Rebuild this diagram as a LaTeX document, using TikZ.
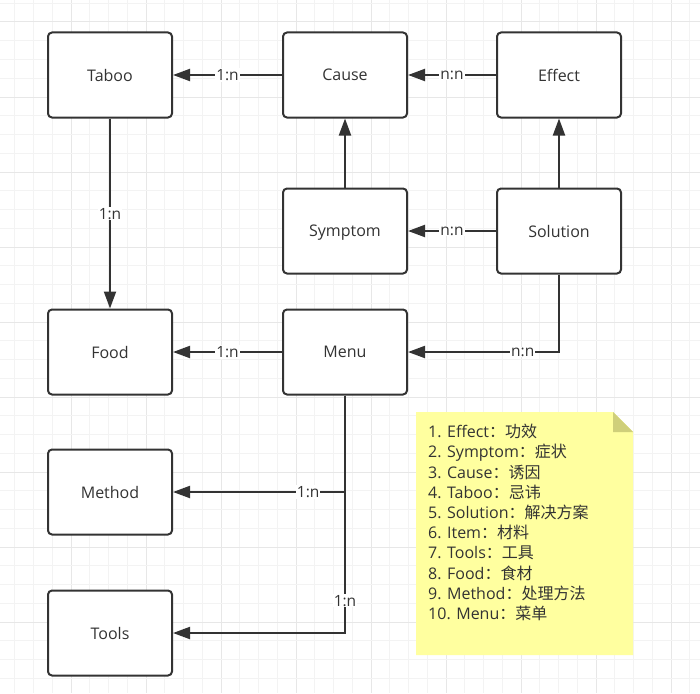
\documentclass[tikz,border=0pt]{standalone}
\usepackage{fontspec}
\setmainfont{Open Sans}
\newfontfamily\cjk{Noto Sans CJK SC}
\usetikzlibrary{arrows.meta}
\definecolor{ink}{HTML}{333333}
\definecolor{gridminor}{HTML}{F3F3F3}
\definecolor{gridmajor}{HTML}{E7E7E7}
\definecolor{notefill}{HTML}{FFFF9F}
\definecolor{notefold}{HTML}{CFCF7A}
\tikzset{
  entity/.style={draw=ink, line width=2pt, rounded corners=4pt, fill=white,
    minimum width=124pt, minimum height=85pt, inner sep=0pt, text depth=0pt,
    font=\fontsize{16}{18}\selectfont, text=ink},
  rel/.style={draw=ink, line width=2pt, -{Triangle[length=17pt,width=12pt]}},
  lbl/.style={fill=white, inner sep=1pt, text depth=0pt, font=\fontsize{15.5}{18}\selectfont, text=ink},
}
\begin{document}
\begin{tikzpicture}[x=1pt,y=-1pt]
\useasboundingbox (0,0) rectangle (700,693);
\fill[white] (0,0) rectangle (700,693);
% grid
\foreach \k in {0,...,38} {
  \pgfmathsetmacro\xx{-4+18.75*\k}
  \pgfmathtruncatemacro\m{mod(\k,4)}
  \ifnum\m=0
    \draw[gridmajor, line width=1pt] (\xx,0) -- (\xx,693);
  \else
    \draw[gridminor, line width=1pt] (\xx,0) -- (\xx,693);
  \fi
}
\foreach \k in {0,...,37} {
  \pgfmathsetmacro\yy{3.25+18.75*\k}
  \pgfmathtruncatemacro\m{mod(\k+3,4)}
  \ifnum\m=0
    \draw[gridmajor, line width=1pt] (0,\yy) -- (700,\yy);
  \else
    \draw[gridminor, line width=1pt] (0,\yy) -- (700,\yy);
  \fi
}
% nodes
\node[entity] (taboo) at (110,75) {Taboo};
\node[entity] (cause) at (345,75) {Cause};
\node[entity] (effect) at (559,75) {Effect};
\node[entity] (symptom) at (345,231) {Symptom};
\node[entity] (solution) at (559,231) {Solution};
\node[entity] (food) at (110,352) {Food};
\node[entity] (menu) at (345,352) {Menu};
\node[entity] (method) at (110,492) {Method};
\node[entity] (tools) at (110,633) {Tools};
% connectors
\draw[rel] (cause) -- node[lbl] {1:n} (taboo);
\draw[rel] (effect) -- node[lbl] {n:n} (cause);
\draw[rel] (symptom) -- (cause);
\draw[rel] (solution) -- (effect);
\draw[rel] (solution) -- node[lbl] {n:n} (symptom);
\draw[rel] (taboo) -- node[lbl] {1:n} (food);
\draw[rel] (menu) -- node[lbl] {1:n} (food);
\draw[rel] (solution.south) |- node[lbl, pos=0.62] {n:n} (menu.east);
\draw[rel] (menu.south) |- node[lbl, pos=0.607] {1:n} (method.east);
\draw[rel] (menu.south) |- node[lbl, pos=0.432] {1:n} (tools.east);
% note
\fill[notefill] (416,412) -- (613,412) -- (633,432) -- (633,655) -- (416,655) -- cycle;
\fill[notefold] (613,412) -- (633,432) -- (613,432) -- cycle;
\node[anchor=north west, align=left, inner sep=0pt, text=ink,
  font=\fontsize{16}{20.2}\selectfont] (note) at (428,424) {%
1. Effect{\cjk ：功效}\\
2. Symptom{\cjk ：症状}\\
3. Cause{\cjk ：诱因}\\
4. Taboo{\cjk ：忌讳}\\
5. Solution{\cjk ：解决方案}\\
6. Item{\cjk ：材料}\\
7. Tools{\cjk ：工具}\\
8. Food{\cjk ：食材}\\
9. Method{\cjk ：处理方法}\\
10. Menu{\cjk ：菜单}};
\end{tikzpicture}
\end{document}
